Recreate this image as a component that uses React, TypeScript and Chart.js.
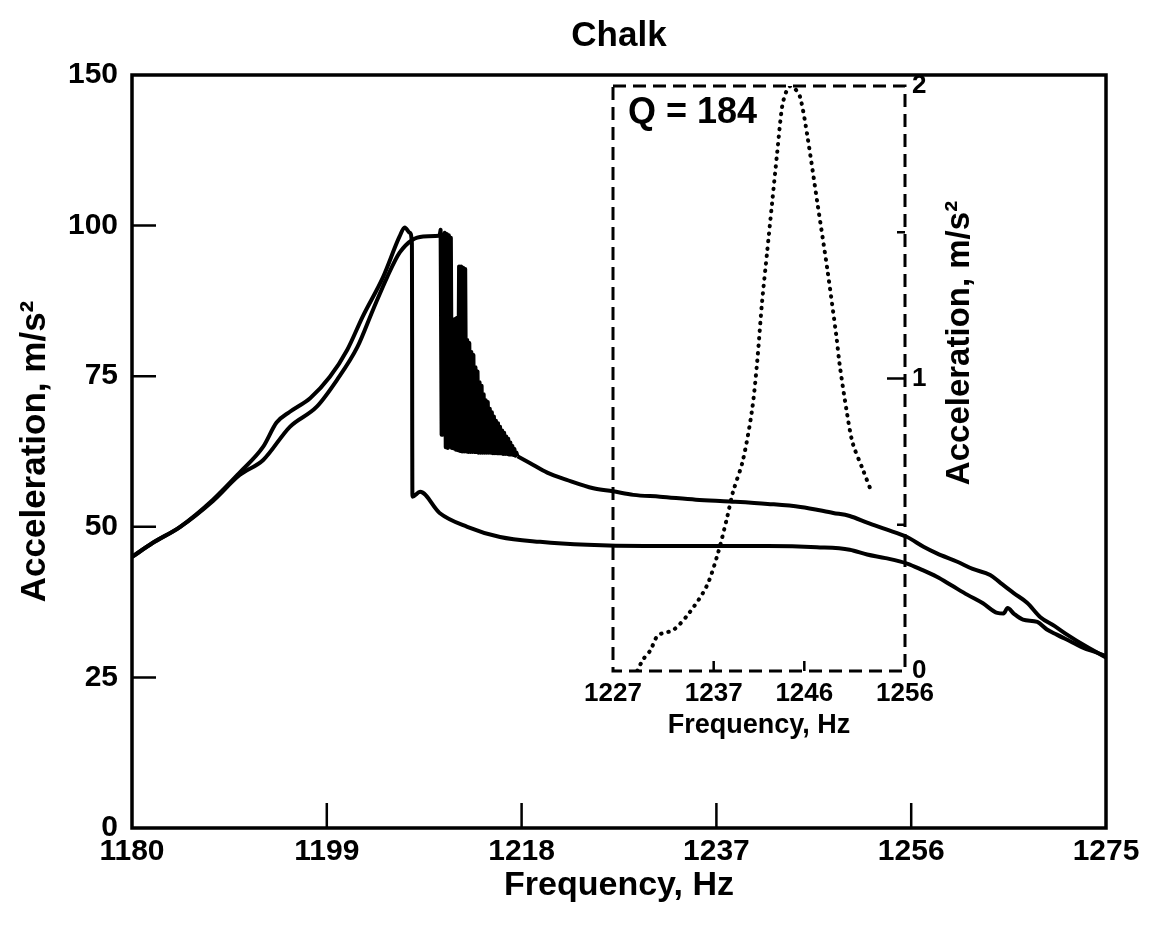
import React, { useEffect, useRef } from "react";
import { Chart, registerables } from "chart.js";

Chart.register(...registerables);

const FONT = "'Liberation Sans', Arial, Helvetica, sans-serif";

// ---------- text ----------
const chartTitle = "Chalk";
const xTitle = "Frequency, Hz";
const yTitle = "Acceleration, m/s²";
const insetNote = "Q = 184";

// ---------- main axes ----------
const xTicksMain = [1180, 1199, 1218, 1237, 1256, 1275];
const yTicksMain = [0, 25, 50, 75, 100, 125];
const yTickLabelsMain = ["0", "25", "50", "75", "100", "150"];

// ---------- sweep A: rises to the peak, jumps down, lower branch ----------
const sweepAFreq = [
  1180, 1182, 1184.7, 1187.9, 1190.5, 1192.8, 1194.1, 1195.4, 1197.4, 1199.3,
  1201.0, 1202.5, 1204.5, 1206.1, 1206.6, 1207.1, 1207.3, 1207.35, 1208.1, 1210.0,
  1212.7, 1215.9, 1219.8, 1224.4, 1230.0, 1236.0, 1242.0, 1246.8, 1250.0, 1251.7,
  1253.5, 1255.6, 1257.0, 1258.5, 1260.0, 1261.5, 1263.0, 1264.4, 1265.0, 1265.4,
  1266.0, 1266.9, 1268.3, 1269.2, 1270.2, 1271.5, 1272.8, 1274.0, 1275.0,
];
const sweepAAccel = [
  45.0, 47.3, 50.0, 54.5, 59.0, 63.3, 67.3, 69.1, 71.4, 74.9,
  79.4, 84.9, 91.5, 98.2, 99.7, 98.8, 97.0, 55.0, 55.8, 52.3,
  50.0, 48.3, 47.5, 47.0, 46.8, 46.8, 46.8, 46.6, 46.2, 45.4,
  44.8, 43.9, 42.9, 41.7, 40.2, 38.7, 37.3, 35.7, 35.6, 36.5,
  35.6, 34.6, 34.2, 33.0, 32.1, 31.0, 29.9, 29.2, 28.5,
];

// ---------- sweep B, part 1: rise to the plateau ----------
const sweepBRiseFreq = [
  1180, 1182, 1184.7, 1187.9, 1190.5, 1192.8, 1195.4, 1198.0, 1200.0, 1202.0,
  1203.5, 1204.9, 1206.1, 1207.4, 1208.4, 1210.0,
];
const sweepBRiseAccel = [
  45.0, 47.3, 50.0, 54.3, 58.6, 61.1, 66.6, 69.9, 74.4, 79.9,
  86.0, 91.5, 95.5, 97.7, 98.2, 98.3,
];

// ---------- sweep B, part 2: unstable oscillation after the plateau ----------
const sweepBOscFreq = [
  1210.0,
  1210.1, 1210.2, 1210.3, 1210.4, 1210.5, 1210.6, 1210.7, 1210.8, 1210.9, 1211.0,
  1211.1, 1211.2, 1211.3, 1211.4, 1211.5, 1211.6, 1211.7, 1211.8, 1211.9, 1212.0,
  1212.1, 1212.2, 1212.3, 1212.4, 1212.5, 1212.6, 1212.7, 1212.8, 1212.9, 1213.0,
  1213.1, 1213.2, 1213.3, 1213.4, 1213.5, 1213.6, 1213.7, 1213.8, 1213.9, 1214.0,
  1214.1, 1214.2, 1214.3, 1214.4, 1214.5, 1214.6, 1214.7, 1214.8, 1214.9, 1215.0,
  1215.1, 1215.2, 1215.3, 1215.4, 1215.5, 1215.6, 1215.7, 1215.8, 1215.9, 1216.0,
  1216.1, 1216.2, 1216.3, 1216.4, 1216.5, 1216.6, 1216.7, 1216.8, 1216.9, 1217.0,
  1217.1, 1217.2, 1217.3, 1217.4, 1217.5, 1217.6,
];
const sweepBOscAccel = [
  98.3,
  99.3, 65.3, 65.3, 98.0, 98.8, 63.2, 98.6, 63.1, 98.4, 63.3,
  98.0, 63.1, 84.0, 63.0, 84.5, 62.8, 84.7, 62.7, 93.2, 62.6,
  93.2, 62.5, 93.0, 62.5, 92.8, 62.5, 81.0, 62.4, 80.5, 62.4,
  79.0, 62.4, 78.5, 62.4, 76.5, 62.4, 75.8, 62.3, 74.0, 62.3,
  73.4, 62.3, 72.0, 62.3, 71.0, 62.3, 70.7, 62.3, 69.6, 62.3,
  69.0, 62.2, 68.3, 62.2, 67.6, 62.2, 67.2, 62.2, 66.6, 62.2,
  66.0, 62.1, 65.6, 62.1, 65.0, 62.1, 64.6, 62.0, 64.0, 62.0,
  63.4, 61.9, 62.9, 61.8, 62.3, 61.7,
];

// ---------- sweep B, part 3: upper branch ----------
const sweepBUpperFreq = [
  1217.6, 1218.8, 1220.5, 1222.4, 1225.0, 1226.9, 1228.9, 1231.5, 1235.0, 1238.3,
  1242.0, 1245.2, 1248.4, 1250.0, 1251.7, 1253.5, 1255.6, 1257.2, 1258.5, 1260.5,
  1262.0, 1263.7, 1264.7, 1266.0, 1267.3, 1268.6, 1270.0, 1271.2, 1273.0, 1275.0,
];
const sweepBUpperAccel = [
  61.7, 60.6, 59.0, 57.8, 56.4, 55.9, 55.3, 55.0, 54.5, 54.2,
  53.8, 53.3, 52.3, 51.8, 50.7, 49.6, 48.3, 46.7, 45.6, 44.2,
  43.0, 42.0, 40.7, 39.0, 37.4, 35.0, 33.5, 32.1, 30.2, 28.3,
];

// ---------- inset (Q = 184 resonance) ----------
const insetXTicks = [1227, 1237, 1246, 1256];
const insetYTicks = [0, 0.5, 1, 1.5, 2];
const insetYTickLabels = ["0", "", "1", "", "2"];
const insetFreq = [
  1229.4, 1230.0, 1230.7, 1231.4, 1232.0, 1233.0, 1234.6, 1236.3, 1237.4, 1238.3,
  1238.9, 1239.9, 1240.8, 1241.3, 1241.8, 1242.3, 1242.8, 1243.3, 1243.8, 1244.2,
  1244.6, 1245.1, 1245.6, 1246.3, 1247.3, 1248.3, 1249.2, 1249.5, 1250.2, 1250.8,
  1251.8, 1252.7,
];
const insetAccel = [
  0.0, 0.04, 0.07, 0.12, 0.13, 0.14, 0.2, 0.29, 0.4, 0.52,
  0.61, 0.72, 0.89, 1.05, 1.26, 1.43, 1.6, 1.77, 1.93, 1.98,
  2.0, 1.99, 1.96, 1.83, 1.6, 1.37, 1.14, 1.05, 0.89, 0.78,
  0.69, 0.61,
];

Chart.defaults.font.family = FONT;
Chart.defaults.color = "#000";

const toPts = (xs: number[], ys: number[]) => xs.map((x, i) => ({ x, y: ys[i] }));

const mainDecor = {
  id: "mainDecor",
  afterDraw(chart: any) {
    const { ctx, chartArea: a, scales } = chart;
    ctx.save();
    ctx.strokeStyle = "#000";
    ctx.lineWidth = 3.5;
    ctx.strokeRect(a.left, a.top, a.right - a.left, a.bottom - a.top);
    ctx.lineWidth = 2.5;
    ctx.beginPath();
    xTicksMain.slice(1, -1).forEach((v) => {
      const px = scales.x.getPixelForValue(v);
      ctx.moveTo(px, a.bottom);
      ctx.lineTo(px, a.bottom - 25);
    });
    yTicksMain.slice(1, -1).forEach((v) => {
      const py = scales.y.getPixelForValue(v);
      ctx.moveTo(a.left, py);
      ctx.lineTo(a.left + 24, py);
    });
    ctx.stroke();
    ctx.fillStyle = "#000";
    ctx.font = `bold 35px ${FONT}`;
    ctx.textAlign = "center";
    ctx.textBaseline = "middle";
    ctx.fillText(chartTitle, (a.left + a.right) / 2, 36);
    ctx.restore();
  },
};

const insetDecor = {
  id: "insetDecor",
  afterDraw(chart: any) {
    const { ctx, chartArea: a, scales } = chart;
    ctx.save();
    ctx.strokeStyle = "#000";
    ctx.lineWidth = 3;
    ctx.setLineDash([13, 7]);
    ctx.strokeRect(a.left, a.top, a.right - a.left, a.bottom - a.top);
    ctx.setLineDash([]);
    ctx.lineWidth = 2.5;
    ctx.beginPath();
    insetXTicks.slice(1, -1).forEach((v) => {
      const px = scales.x.getPixelForValue(v);
      ctx.moveTo(px, a.bottom);
      ctx.lineTo(px, a.bottom - 10);
    });
    insetYTicks.slice(1, -1).forEach((v) => {
      const py = scales.y.getPixelForValue(v);
      ctx.moveTo(a.right, py);
      ctx.lineTo(a.right - (Number.isInteger(v) ? 18 : 8), py);
    });
    ctx.stroke();
    ctx.fillStyle = "#000";
    ctx.font = `bold 36px ${FONT}`;
    ctx.textAlign = "left";
    ctx.textBaseline = "alphabetic";
    ctx.fillText(insetNote, a.left + 15, a.top + 37);
    ctx.translate(a.right + 55, 343);
    ctx.rotate(-Math.PI / 2);
    ctx.font = `bold 33px ${FONT}`;
    ctx.textAlign = "center";
    ctx.textBaseline = "middle";
    ctx.fillText(yTitle, 0, 0);
    ctx.restore();
  },
};

export default function App() {
  const mainRef = useRef<HTMLCanvasElement>(null);
  const insetRef = useRef<HTMLCanvasElement>(null);

  useEffect(() => {
    const smooth = {
      borderColor: "#000",
      borderWidth: 4,
      pointRadius: 0,
      cubicInterpolationMode: "monotone",
      borderJoinStyle: "round",
      fill: false,
    };
    const jagged = {
      borderColor: "#000",
      borderWidth: 4,
      pointRadius: 0,
      tension: 0,
      borderJoinStyle: "round",
      fill: false,
    };
    const main = new Chart(mainRef.current as HTMLCanvasElement, {
      type: "line",
      data: {
        datasets: [
          { ...smooth, label: "Sweep A", data: toPts(sweepAFreq, sweepAAccel) },
          { ...smooth, label: "Sweep B rise", data: toPts(sweepBRiseFreq, sweepBRiseAccel) },
          { ...jagged, label: "Sweep B oscillation", data: toPts(sweepBOscFreq, sweepBOscAccel) },
          { ...smooth, label: "Sweep B upper", data: toPts(sweepBUpperFreq, sweepBUpperAccel) },
        ],
      } as any,
      options: {
        animation: false,
        responsive: false,
        devicePixelRatio: 1,
        layout: { padding: { top: 75, right: 46, left: 0, bottom: 0 } },
        plugins: { legend: { display: false }, tooltip: { enabled: false }, title: { display: false } },
        scales: {
          x: {
            type: "linear",
            min: 1180,
            max: 1275,
            afterBuildTicks: (s: any) => {
              s.ticks = xTicksMain.map((v) => ({ value: v }));
            },
            afterFit: (s: any) => {
              s.height = 110;
            },
            grid: { display: false, drawTicks: false },
            border: { display: false },
            ticks: {
              color: "#000",
              font: { size: 30, weight: "bold" },
              padding: 6,
              maxRotation: 0,
              autoSkip: false,
              callback: (v: any) => String(v),
            },
            title: {
              display: true,
              text: xTitle,
              color: "#000",
              font: { size: 34, weight: "bold" },
              padding: { top: 0, bottom: 32 },
            },
          },
          y: {
            type: "linear",
            min: 0,
            max: 125,
            afterBuildTicks: (s: any) => {
              s.ticks = yTicksMain.map((v) => ({ value: v }));
            },
            afterFit: (s: any) => {
              s.width = 132;
            },
            grid: { display: false, drawTicks: false },
            border: { display: false },
            ticks: {
              color: "#000",
              font: { size: 30, weight: "bold" },
              padding: 14,
              autoSkip: false,
              callback: (v: any) => {
                const i = yTicksMain.indexOf(Number(v));
                return i >= 0 ? yTickLabelsMain[i] : "";
              },
            },
            title: {
              display: true,
              text: yTitle,
              color: "#000",
              font: { size: 35, weight: "bold" },
              padding: { top: 14, bottom: 0 },
            },
          },
        },
      } as any,
      plugins: [mainDecor],
    });

    const inset = new Chart(insetRef.current as HTMLCanvasElement, {
      type: "line",
      data: {
        datasets: [
          {
            label: "Q = 184",
            data: toPts(insetFreq, insetAccel),
            borderColor: "#000",
            borderWidth: 4,
            borderDash: [0.5, 7],
            borderCapStyle: "round",
            pointRadius: 0,
            tension: 0.3,
            fill: false,
          },
        ],
      } as any,
      options: {
        animation: false,
        responsive: false,
        devicePixelRatio: 1,
        layout: { padding: { left: 613, top: 86, right: 167, bottom: 187 } },
        plugins: { legend: { display: false }, tooltip: { enabled: false } },
        scales: {
          x: {
            type: "linear",
            min: 1227,
            max: 1256,
            afterBuildTicks: (s: any) => {
              s.ticks = insetXTicks.map((v) => ({ value: v }));
            },
            afterFit: (s: any) => {
              s.height = 80;
            },
            grid: { display: false, drawTicks: false },
            border: { display: false },
            ticks: {
              color: "#000",
              font: { size: 26, weight: "bold" },
              padding: 7,
              maxRotation: 0,
              autoSkip: false,
              callback: (v: any) => String(v),
            },
            title: {
              display: true,
              text: xTitle,
              color: "#000",
              font: { size: 27, weight: "bold" },
              padding: { top: 0, bottom: 9 },
            },
          },
          y: {
            type: "linear",
            position: "right",
            min: 0,
            max: 2,
            afterBuildTicks: (s: any) => {
              s.ticks = insetYTicks.map((v) => ({ value: v }));
            },
            afterFit: (s: any) => {
              s.width = 80;
            },
            grid: { display: false, drawTicks: false },
            border: { display: false },
            ticks: {
              color: "#000",
              font: { size: 26, weight: "bold" },
              padding: 7,
              autoSkip: false,
              callback: (v: any) => {
                const i = insetYTicks.indexOf(Number(v));
                return i >= 0 ? insetYTickLabels[i] : "";
              },
            },
          },
        },
      } as any,
      plugins: [insetDecor],
    });

    return () => {
      main.destroy();
      inset.destroy();
    };
  }, []);

  const canvasStyle: React.CSSProperties = { position: "absolute", left: 0, top: 0 };
  return (
    <div style={{ position: "absolute", left: 0, top: 0, width: 1152, height: 938, background: "#fff" }}>
      <canvas ref={mainRef} width={1152} height={938} style={canvasStyle} />
      <canvas ref={insetRef} width={1152} height={938} style={canvasStyle} />
    </div>
  );
}
